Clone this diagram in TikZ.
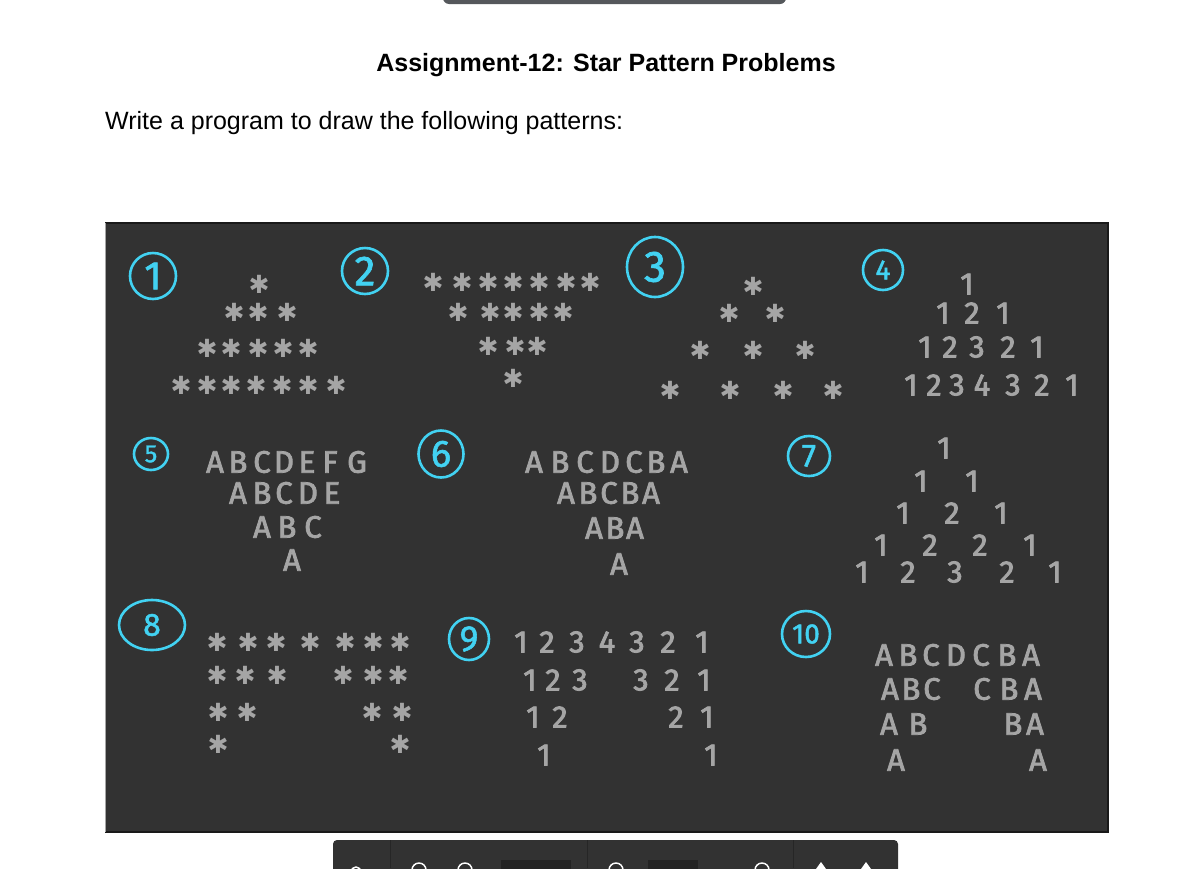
\documentclass[tikz,border=0pt]{standalone}
\usepackage{fontspec}
\setmainfont{Liberation Sans}
\newfontfamily\chalkfont[FakeBold=2.5]{Fira Sans}
\newfontfamily\markfont[FakeBold=1.5]{Fira Sans}
\newfontfamily\symfont{DejaVu Sans}
\usetikzlibrary{shapes.geometric}
\definecolor{boardGray}{HTML}{323232}
\definecolor{chalkGray}{HTML}{A5A5A5}
\definecolor{markCyan}{HTML}{42D2F2}
\definecolor{barGray}{HTML}{55585C}
\definecolor{slotGray}{HTML}{232323}

\begin{document}
\begin{tikzpicture}[x=1pt,y=-1pt,
  starmark/.style={text=chalkGray,inner sep=0pt,font=\symfont\fontsize{25}{25}\selectfont},
  chalk/.style={text=chalkGray,inner sep=0pt,font=\chalkfont\fontsize{31}{31}\selectfont},
  badge/.style n args={3}{ellipse,draw=markCyan,line width=2.6pt,text=markCyan,inner sep=0pt,
    minimum width=#1pt,minimum height=#2pt,font=\markfont\fontsize{#3}{#3}\selectfont},
  heading/.style={inner sep=0pt,font=\fontsize{25}{30}\selectfont}
]
\useasboundingbox (0,0) rectangle (1177,868);
\clip (0,0) rectangle (1177,868);
\fill[white] (0,0) rectangle (1177,868);

% page header
\fill[barGray,rounded corners=6pt] (443,-10) rectangle (786,4);
\node[heading,font=\bfseries\fontsize{25}{30}\selectfont,anchor=base] (title) at (606,71)
  {Assignment-12: Star Pattern Problems};
\node[heading,anchor=base west] (task) at (105,129)
  {Write a program to draw the following patterns:};

% board
\fill[boardGray] (105,223) rectangle (1108,832);
\draw[black!90,line width=1.5pt] (105,223) -- (1108,223) -- (1108,832) -- (105,832);
\draw[black!35,line width=1pt] (105,223) -- (105,832);

% numbered marks
\node[badge={46}{46}{40}] (mark1) at (153,276) {1};
\node[badge={46}{46}{42}] (mark2) at (365,271) {2};
\node[badge={56}{60}{44}] (mark3) at (655,267) {3};
\node[badge={40}{40}{28}] (mark4) at (883,270) {4};
\node[badge={34}{32}{25}] (mark5) at (151,454) {5};
\node[badge={45}{47}{38}] (mark6) at (441,454) {6};
\node[badge={42}{40}{32}] (mark7) at (809,456) {7};
\node[badge={66}{50}{32}] (mark8) at (152,625) {8};
\node[badge={40}{42}{36}] (mark9) at (469,639) {9};
\node[badge={48}{46}{28}] (mark10) at (806,634) {10};

% pattern 1: pyramid
\foreach \y/\xs [count=\r] in {284/{259},312/{234,258,287},348/{207,231,258,283,308},
    385/{181,207,231,256,282,308,336}}
  \foreach \x [count=\i] in \xs \node[starmark] (pyr-\r-\i) at (\x,\y) {✱};

% pattern 2: inverted half pyramid
\foreach \y/\xs [count=\r] in {282/{433,462,488,513,539,566,590},312/{458,490,513,539,563},
    346/{488,515,537},378/{513}}
  \foreach \x [count=\i] in \xs \node[starmark] (inv-\r-\i) at (\x,\y) {✱};

% pattern 3: hollow pyramid
\foreach \y/\xs [count=\r] in {286/{753},313/{729,775},350/{700,753,805},390/{670,730,783,833}}
  \foreach \x [count=\i] in \xs \node[starmark] (hol-\r-\i) at (\x,\y) {✱};

% pattern 8: butterfly
\foreach \y/\xs [count=\r] in {642/{217,248,276,310,345,373,400},675/{217,245,277,343,373,398},
    712/{218,247,372,402},744/{218,400}}
  \foreach \x [count=\i] in \xs \node[starmark] (bfl-\r-\i) at (\x,\y) {✱};

% pattern 4: number pyramid
\foreach \y/\ds [count=\r] in {284/{1/967},313/{1/943,2/972,1/1003},
    347/{1/925,2/950,3/977,2/1008,1/1037},
    385/{1/911,2/934,3/957,4/982,3/1013,2/1042,1/1072}}
  \foreach \d/\x [count=\i] in \ds \node[chalk] (num-\r-\i) at (\x,\y) {\d};

% pattern 7: spaced number pyramid
\foreach \y/\ds [count=\r] in {448/{1/944},481/{1/921,1/972},513/{1/903,2/952,1/1001},
    545/{1/881,2/930,2/980,1/1030},572/{1/862,2/908,3/955,2/1007,1/1055}}
  \foreach \d/\x [count=\i] in \ds \node[chalk] (spc-\r-\i) at (\x,\y) {\d};

% pattern 9: number hourglass
\foreach \y/\ds [count=\r] in {642/{1/521,2/547,3/577,4/607,3/637,2/668,1/702},
    680/{1/530,2/553,3/580,3/641,2/672,1/704},717/{1/533,2/560,2/676,1/707},
    755/{1/544,1/711}}
  \foreach \d/\x [count=\i] in \ds \node[chalk] (hgl-\r-\i) at (\x,\y) {\d};

% pattern 5: letter triangle
\foreach \y/\ds [count=\r] in {462/{A/215,B/238,C/262,D/284,E/307,F/330,G/357},
    493/{A/238,B/262,C/284,D/308,E/332},527/{A/262,B/287,C/313},560/{A/292}}
  \foreach \d/\x [count=\i] in \ds \node[chalk] (let-\r-\i) at (\x,\y) {\d};

% pattern 6: letter palindrome
\foreach \y/\ds [count=\r] in {462/{A/534,B/560,C/585,D/610,C/634,B/656,A/679},
    493/{A/566,B/588,C/609,B/630,A/651},528/{A/594,B/615,A/635},564/{A/619}}
  \foreach \d/\x [count=\i] in \ds \node[chalk] (pal-\r-\i) at (\x,\y) {\d};

% pattern 10: letter gap
\foreach \y/\ds [count=\r] in {655/{A/884,B/908,C/931,D/956,C/981,B/1007,A/1031},
    689/{A/890,B/911,C/932,C/982,B/1009,A/1033},724/{A/889,B/918,B/1013,A/1035},
    760/{A/896,A/1038}}
  \foreach \d/\x [count=\i] in \ds \node[chalk] (gap-\r-\i) at (\x,\y) {\d};

% viewer toolbar
\fill[boardGray,rounded corners=4pt] (333,840) rectangle (898,890);
\foreach \x in {390,587,793} \draw[black!85,line width=1pt] (\x,840) -- (\x,868);
\fill[slotGray] (501,860) rectangle (571,880);
\fill[slotGray] (648,860) rectangle (698,880);
\foreach \x in {419,465,616,762} \draw[white,line width=1.5pt] (\x,870) circle (7);
\draw[white,line width=1.5pt] (356,872) circle (5);
\foreach \x in {821,866} \fill[white] (\x-5,869) -- (\x,862) -- (\x+5,869) -- cycle;
\end{tikzpicture}
\end{document}
